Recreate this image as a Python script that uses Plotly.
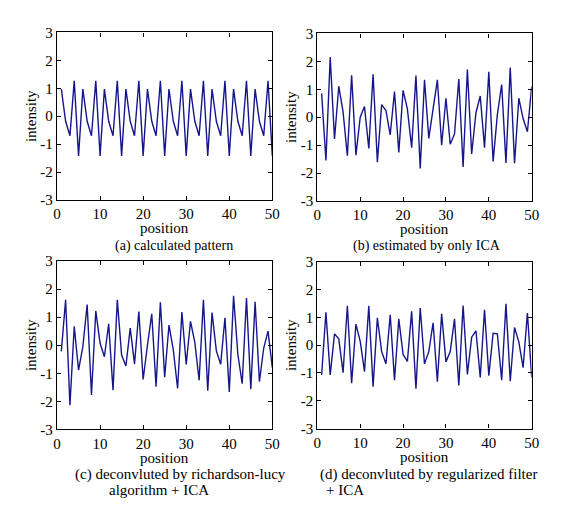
import plotly.graph_objects as go

W, H = 563, 505

position = list(range(1, 51))

calculated = [0.97, -0.18, -0.70, 1.27, -1.42, 0.97, -0.18, -0.70, 1.27, -1.42,
              0.97, -0.18, -0.70, 1.27, -1.42, 0.97, -0.18, -0.70, 1.27, -1.42,
              0.97, -0.18, -0.70, 1.27, -1.42, 0.97, -0.18, -0.70, 1.27, -1.42,
              0.97, -0.18, -0.70, 1.27, -1.42, 0.97, -0.18, -0.70, 1.27, -1.42,
              0.97, -0.18, -0.70, 1.27, -1.42, 0.97, -0.18, -0.70, 1.27, -1.42]

only_ica = [0.85, -1.55, 2.15, -0.78, 1.11, 0.19, -1.38, 1.50, -1.36, 0.00,
            0.38, -1.12, 1.54, -1.61, 0.45, 0.24, -0.63, 0.92, -1.26, 0.96,
            0.30, -1.09, 1.49, -1.84, 1.34, -0.76, 0.30, 1.34, -1.00, 0.68,
            -0.97, -0.60, 1.37, -1.78, 1.71, -1.32, 0.16, 0.76, -1.09, 1.63,
            -1.59, 0.10, 1.17, -1.64, 1.78, -1.65, 0.68, -0.05, -0.52, 1.10]

rl_ica = [-0.22, 1.62, -2.14, 0.67, -0.89, -0.05, 1.45, -1.77, 1.22, 0.07,
          -0.41, 0.76, -1.60, 1.62, -0.35, -0.74, 0.61, -0.67, 1.20, -1.22,
          0.00, 1.12, -1.48, 1.53, -1.14, 0.72, -0.16, -1.54, 1.18, -0.68,
          0.85, 0.10, -1.25, 1.62, -1.62, 1.16, -0.20, -0.68, 0.98, -1.66,
          1.76, -0.33, -1.37, 1.68, -1.57, 1.55, -1.30, -0.10, 0.50, -0.80]

reg_ica = [-1.07, 1.19, -1.07, 0.41, 0.23, -0.99, 1.42, -1.37, 0.76, 0.14,
           -0.95, 1.42, -1.49, 0.99, -0.23, -0.67, 1.10, -1.26, 0.95, -0.33,
           -0.58, 1.22, -1.57, 1.34, -0.67, -0.23, 0.81, -1.31, 1.13, -0.60,
           -0.23, 0.95, -1.45, 1.43, -1.05, 0.29, 0.52, -1.16, 1.28, -1.10,
           0.43, 0.41, -1.26, 1.49, -1.30, 0.64, 0.12, -0.81, 1.16, -1.16]

x_ticks = [0, 10, 20, 30, 40, 50]
y_ticks = [-3, -2, -1, 0, 1, 2, 3]
y_ticktext = ["-3", "-2", "-1", "0", "1", "2", "3"]

captions = [
    ["(a) calculated pattern"],
    ["(b) estimated by only ICA"],
    ["(c) deconvluted by richardson-lucy", "algorithm + ICA"],
    ["(d) deconvluted by regularized filter", "+ ICA"],
]

series = [calculated, only_ica, rl_ica, reg_ica]

FONT = "Liberation Serif"
LINE = "#16168c"

# pixel boxes (left, right, top, bottom)
boxes = [
    (46, 266, 17, 190),
    (312, 531, 18, 191),
    (46, 266, 253, 427),
    (312, 531, 254, 426),
]

fig = go.Figure()
layout = dict(
    width=W, height=H,
    margin=dict(l=0, r=0, t=0, b=0),
    paper_bgcolor="white", plot_bgcolor="white",
    showlegend=False,
    font=dict(family=FONT, size=15, color="black"),
    annotations=[],
)

for i, (vals, box) in enumerate(zip(series, boxes)):
    l, r, t, b = box
    n = "" if i == 0 else str(i + 1)
    fig.add_trace(go.Scatter(x=position, y=vals, mode="lines",
                             line=dict(color=LINE, width=1.4),
                             xaxis="x" + n, yaxis="y" + n))
    common = dict(showline=True, linecolor="black", linewidth=1.3, mirror="ticks",
                  ticks="inside", ticklen=4, tickcolor="black", showgrid=False,
                  zeroline=False, tickfont=dict(family=FONT, size=15, color="black"))
    layout["xaxis" + n] = dict(domain=[l / W, r / W], range=[0, 50],
                               tickvals=x_ticks, anchor="y" + n, **common)
    layout["yaxis" + n] = dict(domain=[1 - b / H, 1 - t / H], range=[-3, 3],
                               tickvals=y_ticks, ticktext=y_ticktext, anchor="x" + n,
                               title=dict(text="intensity", standoff=0,
                                          font=dict(family=FONT, size=15)),
                               **common)
    # x-axis title placed just under the tick labels
    layout["annotations"].append(dict(
        text="position", xref="paper", yref="paper",
        x=(l + r) / 2 / W, y=1 - (b + 29) / H, xanchor="center", yanchor="middle",
        showarrow=False, font=dict(family=FONT, size=15, color="black")))

# captions
cap_pos = [
    [(166, 238, "center", 14)],
    [(424, 238, "center", 14)],
    [(172, 474, "center", 15), (97, 490, "left", 15)],
    [(313, 474, "left", 15), (319, 490, "left", 15)],
]
for lines, poss in zip(captions, cap_pos):
    for text, (px, py, anc, fs) in zip(lines, poss):
        layout["annotations"].append(dict(
            text=text, xref="paper", yref="paper", x=px / W, y=1 - py / H,
            xanchor=anc, yanchor="middle", showarrow=False,
            font=dict(family=FONT, size=fs, color="black")))

fig.update_layout(**layout)
fig.write_html("out.html")
